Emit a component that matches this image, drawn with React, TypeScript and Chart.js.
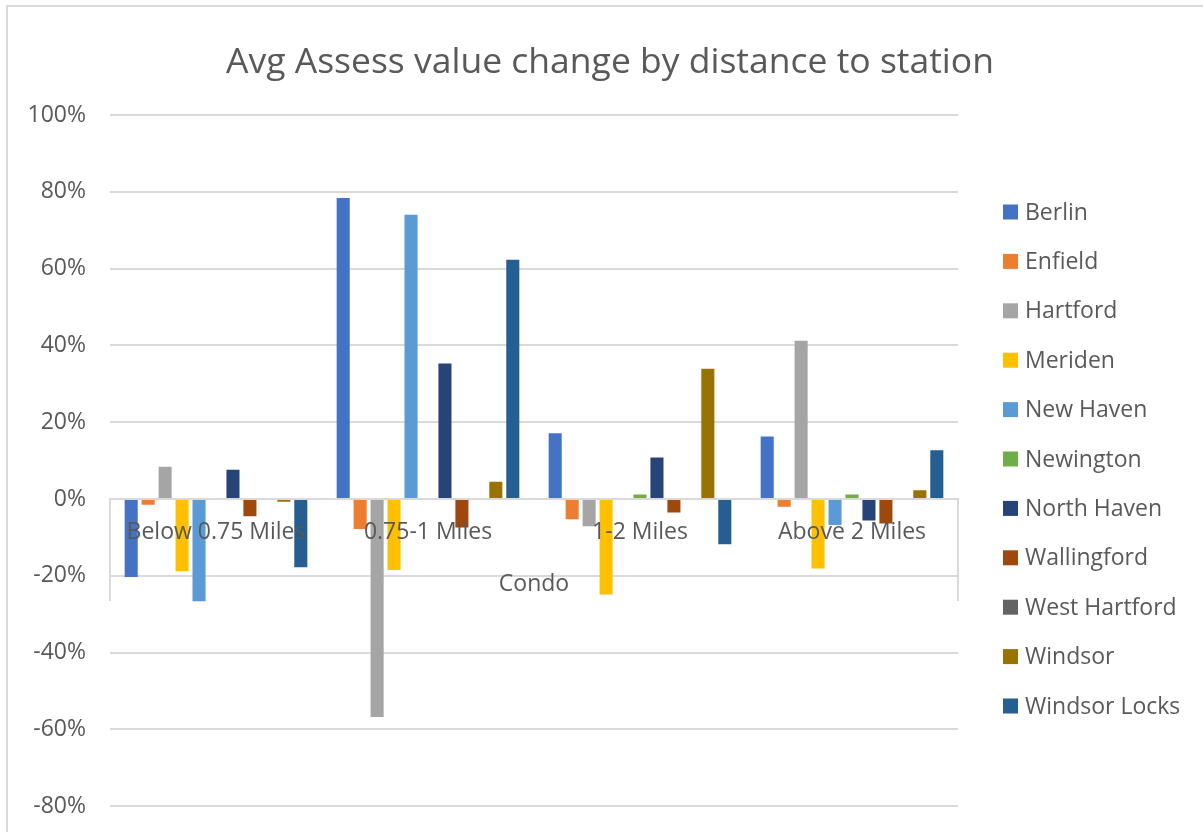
import React, { useEffect, useRef } from "react";
import { Chart, registerables } from "chart.js";

Chart.register(...registerables);

// ---------- data ----------
const chartTitle = "Avg Assess value change by distance to station";
const categories = ["Below 0.75 Miles", "0.75-1 Miles", "1-2 Miles", "Above 2 Miles"];
const groupLabel = "Condo";

const seriesNames = [
  "Berlin",
  "Enfield",
  "Hartford",
  "Meriden",
  "New Haven",
  "Newington",
  "North Haven",
  "Wallingford",
  "West Hartford",
  "Windsor",
  "Windsor Locks",
];

const seriesColors = [
  "#4472C4",
  "#ED7D31",
  "#A5A5A5",
  "#FFC000",
  "#5B9BD5",
  "#70AD47",
  "#264478",
  "#9E480E",
  "#636363",
  "#997300",
  "#255E91",
];

const berlin = [-20.3, 78.4, 17.1, 16.3];
const enfield = [-1.5, -7.8, -5.3, -2.0];
const hartford = [8.4, -56.8, -7.1, 41.2];
const meriden = [-18.8, -18.5, -24.9, -18.1];
const newHaven = [-26.6, 74.0, null, -6.8];
const newington = [null, null, 1.2, 1.2];
const northHaven = [7.6, 35.3, 10.8, -5.6];
const wallingford = [-4.5, -7.4, -3.5, -6.4];
const westHartford = [null, null, null, null];
const windsor = [-0.7, 4.5, 33.9, 2.3];
const windsorLocks = [-17.8, 62.3, -11.8, 12.7];

const seriesValues = [
  berlin,
  enfield,
  hartford,
  meriden,
  newHaven,
  newington,
  northHaven,
  wallingford,
  westHartford,
  windsor,
  windsorLocks,
];

const yMin = -80;
const yMax = 100;
const yStep = 20;

// ---------- styles ----------
const FONT = '"Open Sans", "DejaVu Sans", sans-serif';
const TEXT = "#595959";
const GRID = "#D9D9D9";

const titlePlugin = {
  id: "centerTitle",
  afterDraw(chart: any) {
    const { ctx } = chart;
    ctx.save();
    ctx.fillStyle = TEXT;
    ctx.font = `35.5px ${FONT}`;
    ctx.textAlign = "center";
    ctx.textBaseline = "middle";
    ctx.fillText(chartTitle, 610, 63);
    ctx.restore();
  },
};

const categoryBoxPlugin = {
  id: "categoryBox",
  beforeDatasetsDraw(chart: any) {
    const { ctx, chartArea, scales } = chart;
    const y0 = scales.y.getPixelForValue(0);
    ctx.save();
    ctx.strokeStyle = GRID;
    ctx.lineWidth = 2;
    ctx.beginPath();
    ctx.moveTo(chartArea.left, y0);
    ctx.lineTo(chartArea.left, y0 + 102);
    ctx.moveTo(chartArea.right, y0);
    ctx.lineTo(chartArea.right, y0 + 102);
    ctx.stroke();
    ctx.restore();
  },
  afterDatasetsDraw(chart: any) {
    const { ctx, chartArea, scales } = chart;
    const y0 = scales.y.getPixelForValue(0);
    ctx.save();
    ctx.fillStyle = TEXT;
    ctx.font = `23px ${FONT}`;
    ctx.textAlign = "center";
    ctx.textBaseline = "middle";
    ctx.fillText(groupLabel, (chartArea.left + chartArea.right) / 2, y0 + 85);
    ctx.restore();
  },
};

const legendPlugin = {
  id: "sideLegend",
  afterDraw(chart: any) {
    const { ctx } = chart;
    ctx.save();
    ctx.font = `23px ${FONT}`;
    ctx.textAlign = "left";
    ctx.textBaseline = "middle";
    chart.data.datasets.forEach((ds: any, i: number) => {
      const cy = 212 + i * 49.4;
      ctx.fillStyle = ds.backgroundColor;
      ctx.fillRect(1003, cy - 7.5, 15, 15);
      ctx.fillStyle = TEXT;
      ctx.fillText(ds.label, 1025, cy + 1);
    });
    ctx.restore();
  },
};

export default function App() {
  const canvasRef = useRef<HTMLCanvasElement | null>(null);

  useEffect(() => {
    if (!canvasRef.current) return;
    const chart = new Chart(canvasRef.current, {
      type: "bar",
      data: {
        labels: categories,
        datasets: seriesNames.map((name, i) => ({
          label: name,
          data: seriesValues[i],
          backgroundColor: seriesColors[i],
          borderWidth: 0,
          categoryPercentage: 0.88,
          barPercentage: 0.77,
        })),
      },
      options: {
        responsive: false,
        animation: false,
        layout: { padding: { top: 115, left: 0, right: 245, bottom: 0 } },
        plugins: {
          legend: { display: false },
          tooltip: { enabled: false },
          title: { display: false },
        },
        scales: {
          x: {
            position: { y: 0 },
            afterFit: (scale: any) => {
              scale.height = 0;
            },
            grid: { display: true, color: "rgba(0,0,0,0)", drawTicks: false },
            border: { display: true, color: GRID, width: 2 },
            ticks: {
              z: 1,
              color: TEXT,
              font: { family: FONT, size: 23 },
              padding: 20,
              autoSkip: false,
              maxRotation: 0,
            },
          },
          y: {
            min: yMin,
            max: yMax,
            afterFit: (scale: any) => {
              scale.width = 110;
            },
            grid: { color: GRID, lineWidth: 2, drawTicks: false },
            border: { display: false },
            ticks: {
              stepSize: yStep,
              color: TEXT,
              font: { family: FONT, size: 23 },
              padding: 24,
              callback: (v: any) => `${v}%`,
            },
          },
        },
      },
      plugins: [titlePlugin, categoryBoxPlugin, legendPlugin],
    } as any);
    return () => chart.destroy();
  }, []);

  return (
    <div
      style={{
        position: "fixed",
        left: 0,
        top: 0,
        width: 1203,
        height: 832,
        overflow: "hidden",
        background: "#ffffff",
      }}
    >
      <div
        style={{
          position: "absolute",
          left: 6,
          top: 5,
          width: 1300,
          height: 900,
          borderLeft: `2px solid ${GRID}`,
          borderTop: `2px solid ${GRID}`,
        }}
      />
      <canvas
        ref={canvasRef}
        width={1203}
        height={844}
        style={{ position: "absolute", left: 0, top: 0, width: 1203, height: 844 }}
      />
    </div>
  );
}
